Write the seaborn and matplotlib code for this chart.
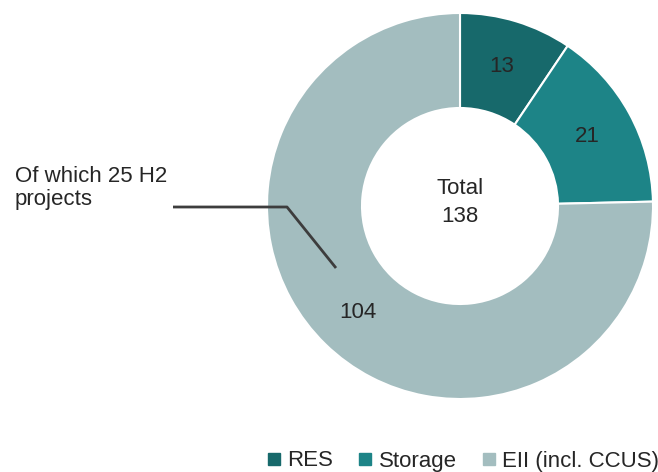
import matplotlib
matplotlib.use("Agg")
import matplotlib.pyplot as plt
from matplotlib.lines import Line2D
import seaborn as sns

categories = ["RES", "Storage", "EII (incl. CCUS)"]
values = [13, 21, 104]
colors = ["#17696b", "#1d8487", "#a3bdbf"]
total_lines = ["Total", "138"]
note_lines = ["Of which 25 H2", "projects"]

sns.set_theme(style="white")
plt.rcParams['font.family'] = ['Liberation Sans', 'DejaVu Sans']

W, H = 658, 472
fig = plt.figure(figsize=(W / 100, H / 100), dpi=100)
ax = fig.add_axes([0, 0, 1, 1])

cx, cy, R = 460, H - 206, 193
wedges, _ = ax.pie(values, colors=colors, startangle=90, counterclock=False,
                   center=(cx, cy), radius=R,
                   wedgeprops=dict(width=R - 98, edgecolor="white", linewidth=1.5))
ax.set_xlim(0, W)
ax.set_ylim(0, H)
ax.set_aspect("equal")
ax.axis("off")

txt = "#262626"
fs = 16
label_pos = [(502, 67), (587, 136), (358, 312)]
for v, (x, y) in zip(values, label_pos):
    ax.text(x, H - y, str(v), ha="center", va="center", fontsize=fs, color=txt)

ax.text(cx, H - 188.5, total_lines[0], ha="center", va="center", fontsize=fs, color=txt)
ax.text(cx, H - 216.5, total_lines[1], ha="center", va="center", fontsize=fs, color=txt)

ax.text(15, H - 182, note_lines[0], ha="left", va="baseline", fontsize=fs, color=txt)
ax.text(15, H - 205, note_lines[1], ha="left", va="baseline", fontsize=fs, color=txt)
ax.plot([173, 287, 336], [H - 207, H - 207, H - 268], color="#3d3d3d", lw=2,
        solid_capstyle="butt")

handles = [Line2D([0], [0], marker="s", linestyle="none", markersize=8.5,
                  markerfacecolor=c, markeredgecolor=c) for c in colors]
fig.legend(handles, categories, loc="center left",
           bbox_to_anchor=(268 / W, 1 - 461 / H),
           ncol=3, frameon=False, fontsize=fs, handletextpad=0.32,
           columnspacing=1.17, handlelength=0.55, borderpad=0,
           borderaxespad=0, labelcolor=txt)

fig.savefig("out.png", dpi=100)
